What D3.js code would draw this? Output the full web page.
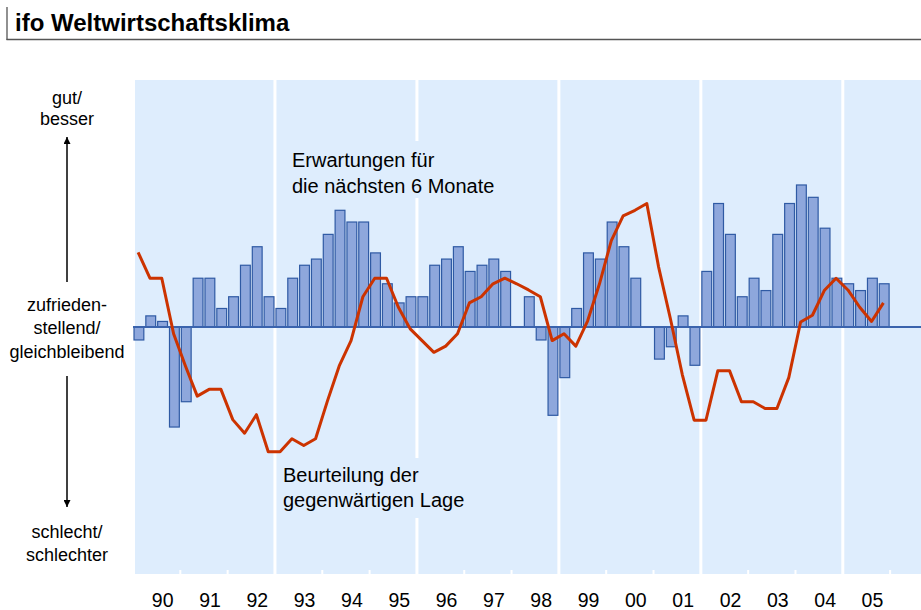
<!DOCTYPE html>
<html>
<head>
<meta charset="utf-8">
<script src="https://cdn.jsdelivr.net/npm/d3@7/dist/d3.min.js"></script>
<style>
  html, body { margin: 0; padding: 0; background: #ffffff; }
  svg { display: block; font-family: "Liberation Sans", Arial, sans-serif; }
</style>
</head>
<body>
<svg id="chart" width="921" height="610"></svg>
<script>
// ---- Data ----
const years = ["90","91","92","93","94","95","96","97","98","99","00","01","02","03","04","05"];
const quarters = years.flatMap(y => ["Q1","Q2","Q3","Q4"].map(q => y + q));
// Erwartungen für die nächsten 6 Monate (bars)
const expectations = [
  -2.1, 1.8, 0.9, -16.2,
  -12.1, 7.9, 7.9, 3.0,
  4.9, 10.0, 13.0, 4.9,
  3.0, 7.9, 10.0, 11.0,
  15.0, 18.9, 17.0, 17.0,
  12.0, 7.0, 3.9, 4.9,
  4.9, 10.0, 11.0, 13.0,
  9.0, 10.0, 11.0, 9.0,
  0.0, 4.9, -2.1, -14.3,
  -8.2, 3.0, 12.0, 11.0,
  17.0, 13.0, 7.9, 0.0,
  -5.2, -3.2, 1.8, -6.2,
  9.0, 20.0, 15.0, 4.9,
  7.9, 5.9, 15.0, 20.0,
  23.0, 21.0, 16.0, 7.9,
  7.0, 5.9, 7.9, 7.0
];
// Beurteilung der gegenwärtigen Lage (line)
const situation = [
  12.1, 7.9, 7.9, -1.1,
  -6.3, -11.2, -10.1, -10.1,
  -15.0, -17.2, -14.2, -20.2,
  -20.2, -18.1, -19.2, -18.1,
  -12.0, -6.3, -2.2, 4.9,
  7.9, 7.9, 3.2, -0.3,
  -2.2, -4.1, -3.1, -1.1,
  3.9, 4.9, 7.0, 7.9,
  7.0, 6.0, 4.9, -2.2,
  -1.1, -3.1, 1.0, 7.0,
  14.0, 18.0, 18.9, 20.0,
  9.7, 1.3, -7.7, -15.1,
  -15.1, -7.1, -7.1, -12.1,
  -12.1, -13.2, -13.2, -8.2,
  0.8, 1.9, 5.9, 7.9,
  6.0, 3.2, 0.9, 3.9
];
const leftTop = ["gut/", "besser"];
const leftMid = ["zufrieden-", "stellend/", "gleichbleibend"];
const leftBottom = ["schlecht/", "schlechter"];
const noteExp = ["Erwartungen für", "die nächsten 6 Monate"];
const noteSit = ["Beurteilung der", "gegenwärtigen Lage"];

// ---- Layout ----
const svg = d3.select("#chart");
const plotLeft = 133, plotTop = 80, plotBottom = 574, plotRight = 921;
const quarterW = 11.83;

const x = d3.scaleBand().domain(quarters)
  .range([plotLeft, plotLeft + quarters.length * quarterW])
  .paddingInner(0.17).paddingOuter(0.085);
const xYear = d3.scaleBand().domain(years)
  .range([plotLeft, plotLeft + quarters.length * quarterW]);
const y = d3.scaleLinear().domain([-40, 40]).range([plotBottom, plotTop]);

// Title
svg.append("line").attr("x1", 7).attr("x2", 7).attr("y1", 7).attr("y2", 40)
  .attr("stroke", "#555").attr("stroke-width", 1.3);
svg.append("line").attr("x1", 6.5).attr("x2", 921).attr("y1", 39.5).attr("y2", 39.5)
  .attr("stroke", "#555").attr("stroke-width", 1.3);
svg.append("text").attr("x", 15).attr("y", 31)
  .attr("font-size", 24).attr("font-weight", "bold").attr("fill", "#000")
  .text("ifo Weltwirtschaftsklima");

// Plot background
svg.append("rect").attr("x", 135).attr("y", plotTop)
  .attr("width", plotRight - 135).attr("height", plotBottom - plotTop)
  .attr("fill", "#deedfd");

// Year separators (every 3 years) and small ticks
const g = svg.append("g");
years.forEach((yr, i) => {
  const xe = xYear(yr) + xYear.bandwidth();
  if ((i + 1) % 3 === 0 && i < years.length - 1) {
    g.append("rect").attr("x", xe - 1.5).attr("y", plotTop)
      .attr("width", 3).attr("height", plotBottom - plotTop).attr("fill", "#ffffff");
  } else {
    g.append("rect").attr("x", xe - 1).attr("y", plotBottom - 4)
      .attr("width", 2).attr("height", 4).attr("fill", "#ffffff");
  }
});

// Note boxes (cover separators)
svg.append("rect").attr("x", 286).attr("y", 141).attr("width", 218).attr("height", 57).attr("fill", "#deedfd");
svg.append("rect").attr("x", 278).attr("y", 458).attr("width", 205).attr("height", 60).attr("fill", "#deedfd");

// Bars
svg.append("g").selectAll("rect").data(quarters.map((q, i) => ({q, v: expectations[i]})).filter(d => d.v !== 0))
  .join("rect")
  .attr("x", d => x(d.q))
  .attr("width", x.bandwidth())
  .attr("y", d => Math.min(y(d.v), y(0)))
  .attr("height", d => Math.abs(y(d.v) - y(0)))
  .attr("fill", "#8ea7dc")
  .attr("stroke", "#2f5aa4")
  .attr("stroke-width", 1.2);

// Zero line
svg.append("line").attr("x1", plotLeft).attr("x2", plotRight)
  .attr("y1", y(0)).attr("y2", y(0))
  .attr("stroke", "#3a63ad").attr("stroke-width", 2);

// Line
const line = d3.line()
  .x((d, i) => x(quarters[i]) + x.bandwidth() / 2 - 0.8)
  .y(d => y(d));
svg.append("path").datum(situation)
  .attr("d", line)
  .attr("fill", "none")
  .attr("stroke", "#cc3300")
  .attr("stroke-width", 3)
  .attr("stroke-linejoin", "round");

// Notes
const n1 = svg.append("text").attr("font-size", 20).attr("fill", "#000");
noteExp.forEach((t, i) => n1.append("tspan").attr("x", 292).attr("y", 167 + i * 26).text(t));
const n2 = svg.append("text").attr("font-size", 20).attr("fill", "#000");
noteSit.forEach((t, i) => n2.append("tspan").attr("x", 283).attr("y", 481.5 + i * 25.5).text(t));

// Left labels
function leftBlock(lines, y0, dy) {
  const t = svg.append("text").attr("font-size", 18).attr("fill", "#000").attr("text-anchor", "middle");
  lines.forEach((s, i) => t.append("tspan").attr("x", 67).attr("y", y0 + i * dy).text(s));
}
leftBlock(leftTop, 104, 21);
leftBlock(leftMid, 310.5, 23.5);
leftBlock(leftBottom, 538, 23);

// Arrows
svg.append("defs").append("marker").attr("id", "ah")
  .attr("viewBox", "0 0 10 10").attr("refX", 10).attr("refY", 5)
  .attr("markerWidth", 7).attr("markerHeight", 7).attr("markerUnits", "userSpaceOnUse")
  .attr("orient", "auto")
  .append("path").attr("d", "M0,0 L10,5 L0,10 Z").attr("fill", "#000");
svg.append("line").attr("x1", 67).attr("x2", 67).attr("y1", 282).attr("y2", 137)
  .attr("stroke", "#000").attr("stroke-width", 1.5).attr("marker-end", "url(#ah)");
svg.append("line").attr("x1", 67).attr("x2", 67).attr("y1", 376).attr("y2", 507)
  .attr("stroke", "#000").attr("stroke-width", 1.5).attr("marker-end", "url(#ah)");

// Year labels
svg.append("g").selectAll("text").data(years).join("text")
  .attr("x", d => xYear(d) + xYear.bandwidth() / 2 + 6)
  .attr("y", 606.5)
  .attr("text-anchor", "middle")
  .attr("font-size", 19.5)
  .attr("fill", "#000")
  .text(d => d);
</script>
</body>
</html>
